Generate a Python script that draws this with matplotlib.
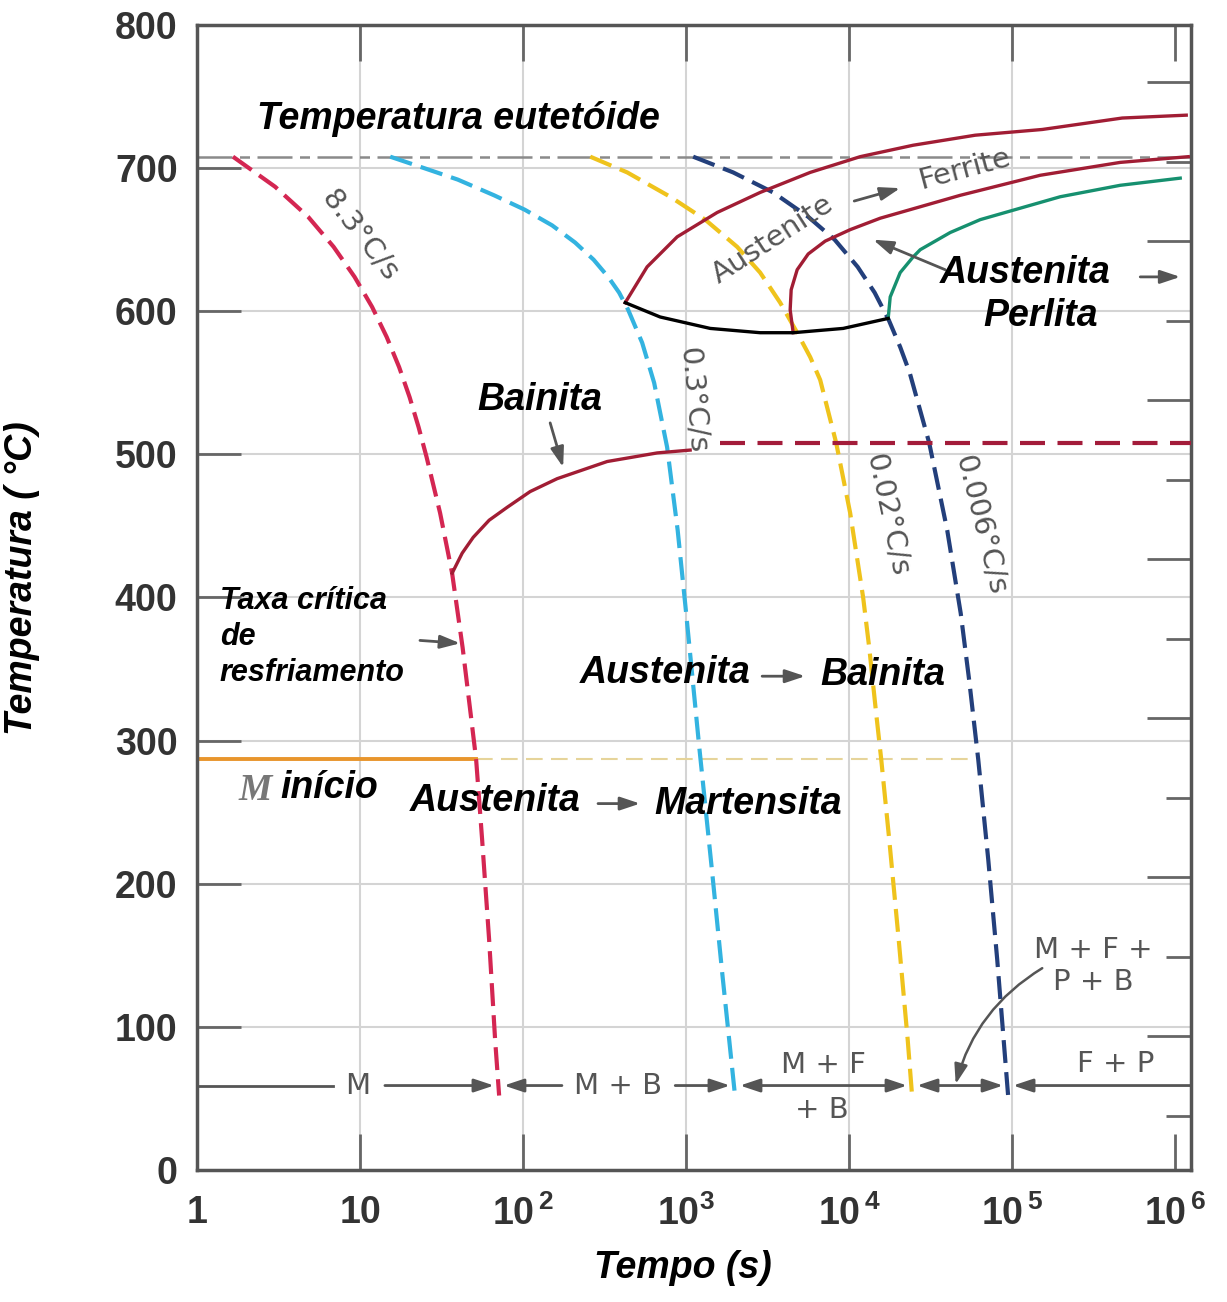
import matplotlib.pyplot as plt
from matplotlib.ticker import NullLocator, FixedLocator

plt.rcParams['font.family'] = ['Liberation Sans', 'DejaVu Sans']
plt.rcParams['mathtext.fontset'] = 'custom'
plt.rcParams['mathtext.rm'] = 'Liberation Sans:bold'
plt.rcParams['mathtext.bf'] = 'Liberation Sans:bold'

### Data (time in s, temperature in °C)

# cooling curves
red_t = [1.66, 3.01, 4.80, 6.88, 9.25, 11.85, 14.56, 17.35, 20.12, 22.85, 25.59, 30.96,
         36.68, 42.55, 47.63, 51.48, 56.03, 61.86, 67.33, 71.26]
red_T = [708, 687, 666, 645, 624, 603, 582, 561, 540, 519, 498, 459,
         417, 365, 319, 287, 231, 161, 91, 52]

cyan_t = [15.3, 24.7, 39.7, 66.4, 102.1, 150.6, 208.4, 270.7, 332.3, 388.1, 440.8, 537.2,
          636.3, 764.3, 887.1, 1000, 1202, 1444, 1663, 1998]
cyan_T = [708, 700, 692, 681, 671, 660, 648, 636, 624, 613, 601, 578,
          550, 505, 447, 389, 296, 208, 138, 51]

yellow_t = [258, 435, 798, 1308, 2055, 2844, 3773, 4797, 5765, 6640, 8322, 10140,
            12180, 13270, 14640, 15720, 17600, 20120, 22850, 24350]
yellow_T = [708, 697, 680, 664, 645, 627, 606, 585, 568, 552, 508, 459,
            400, 365, 319, 287, 231, 161, 91, 51]

navy_t = [1104, 1942, 3418, 5604, 8147, 11270, 14330, 17470, 20550, 23510, 30960, 39930,
          48310, 54480, 61860, 71270, 80910, 94520]
navy_T = [708, 697, 683, 666, 650, 631, 613, 594, 575, 557, 508, 447,
          389, 342, 287, 217, 147, 51]

# transformation curves
ferrite_t = [423, 576, 881, 1550, 2844, 5765, 11680, 24700, 59290, 152800, 472900, 1168000]
ferrite_T = [606, 631, 652, 669, 683, 697, 708, 716, 723, 727, 735, 737]

nose_t = [423, 692, 1404, 2844, 4533, 9189, 17350]
nose_T = [606, 596, 588, 585, 585, 588, 595]

pearl_t = [4533, 4345, 4407, 4797, 5604, 7126, 10140, 15500, 27270, 47970, 148500, 459800, 1202000]
pearl_T = [585, 601, 615, 629, 640, 649, 657, 665, 673, 681, 695, 704, 708]

green_t = [17350, 17850, 20550, 24700, 27270, 41650, 63630, 197000, 459800, 1073000]
green_T = [595, 610, 627, 638, 643, 655, 664, 680, 688, 693]

bain_t = [36.7, 42.3, 49.4, 61.9, 79.8, 110.4, 161.6, 327.6, 663.9, 1058]
bain_T = [417, 431, 442, 454, 463, 474, 483, 495, 501, 503]
bain_dash_t = [1620, 1250000]
bain_dash_T = [508, 508]

t_min, t_max = 1, 1250000
T_eutectoid = 708
T_ms = 287
t_ms_end = 55200
T_bottom = 59

rate_labels = ['8.3°C/s', '0.3°C/s', '0.02°C/s', '0.006°C/s']
temp_ticks = [0, 100, 200, 300, 400, 500, 600, 700, 800]
time_ticks = [1, 10, 1e2, 1e3, 1e4, 1e5, 1e6]
time_labels = ['1', '10', r'10$^{\,2}$', r'10$^{3}$', r'10$^{\,4}$', r'10$^{\,5}$', r'10$^{\,6}$']
fahr_major = [200, 400, 600, 800, 1000, 1200, 1400]
fahr_minor = [100, 300, 500, 700, 900, 1100, 1300]

### Figure

fig = plt.figure(figsize=(12.27, 13.02), dpi=100)
ax = fig.add_axes([0.1606, 0.1014, 0.8101, 0.8794])
ax.set_xscale('log')
ax.set_xlim(t_min, t_max)
ax.set_ylim(0, 800)

grid_c = '#d4d4d4'
for v in time_ticks[1:-1]:
    ax.axvline(v, color=grid_c, lw=1.5, zorder=0)
for v in temp_ticks[1:-1]:
    ax.axhline(v, color=grid_c, lw=1.5, zorder=0)

# eutectoid line and Ms line
ax.plot([t_min, t_max], [T_eutectoid] * 2, color='#8a8a8a', lw=1.8,
        linestyle=(0, (14, 3, 4, 3)), zorder=1)
ax.plot([t_min, red_t[15]], [T_ms] * 2, color='#e8952c', lw=2.8, zorder=2)
ax.plot([red_t[15], t_ms_end], [T_ms] * 2, color='#e6d49a', lw=1.5,
        linestyle=(0, (8, 4)), zorder=1)

# cooling curves
dash = (0, (5.5, 2.2))
ax.plot(red_t, red_T, color='#d42652', lw=3, linestyle=dash, zorder=3)
ax.plot(cyan_t, cyan_T, color='#33b3e0', lw=3, linestyle=dash, zorder=3)
ax.plot(yellow_t, yellow_T, color='#efc31c', lw=3, linestyle=dash, zorder=3)
ax.plot(navy_t, navy_T, color='#233f7b', lw=3, linestyle=dash, zorder=3)

# transformation curves
ax.plot(ferrite_t, ferrite_T, color='#a11d34', lw=2.4, zorder=4)
ax.plot(pearl_t, pearl_T, color='#a11d34', lw=2.4, zorder=4)
ax.plot(green_t, green_T, color='#16906f', lw=2.4, zorder=4)
ax.plot(nose_t, nose_T, color='black', lw=2.4, zorder=4)
ax.plot(bain_t, bain_T, color='#a11d34', lw=2.4, zorder=4)
ax.plot(bain_dash_t, bain_dash_T, color='#a31c3a', lw=3, linestyle=(0, (6, 3)), zorder=3)

# bottom product line with arrows
gray = '#555555'
def arrow(x0, y0, x1, y1, style='-|>'):
    ax.annotate('', xy=(x1, y1), xytext=(x0, y0),
                arrowprops=dict(arrowstyle=style + ',head_length=0.6,head_width=0.2',
                                color=gray, lw=2, shrinkA=0, shrinkB=0,
                                mutation_scale=20), zorder=5)

ax.plot([t_min, 6.83], [T_bottom] * 2, color=gray, lw=2, zorder=5)
arrow(14.2, T_bottom, red_t[-1] * 0.93, T_bottom)
arrow(173, T_bottom, red_t[-1] * 1.07, T_bottom)
arrow(857, T_bottom, cyan_t[-1] * 0.93, T_bottom)
arrow(cyan_t[-1] * 1.07, T_bottom, yellow_t[-1] * 0.93, T_bottom, '<|-|>')
arrow(yellow_t[-1] * 1.07, T_bottom, navy_t[-1] * 0.93, T_bottom, '<|-|>')
arrow(t_max, T_bottom, navy_t[-1] * 1.07, T_bottom)

lab = dict(color=gray, fontsize=21, family='DejaVu Sans', ha='center', va='center', zorder=6)
ax.text(9.72, T_bottom, 'M', **lab)
ax.text(383, T_bottom, 'M + B', **lab)
ax.text(6925, 73, 'M + F', **lab)
ax.text(6830, 42, '+ B', **lab)
ax.text(314000, 154, 'M + F +', **lab)
ax.text(314000, 131, 'P + B', **lab)
ax.text(428500, 74, 'F + P', **lab)
ax.annotate('', xy=(45000, T_bottom + 1), xytext=(152800, 141),
            arrowprops=dict(arrowstyle='-|>,head_length=0.6,head_width=0.2', color=gray,
                            lw=1.8, shrinkA=0, shrinkB=0, mutation_scale=20,
                            connectionstyle='arc3,rad=0.2'), zorder=5)

# rotated rate labels
rot = dict(color=gray, fontsize=21, family='DejaVu Sans', ha='center', va='center',
           rotation_mode='anchor', zorder=6)
ax.text(10, 653, rate_labels[0], rotation=-52, **rot)
ax.text(1104, 538, rate_labels[1], rotation=-85, **rot)
ax.text(17110, 458, rate_labels[2], rotation=-78, **rot)
ax.text(63660, 451, rate_labels[3], rotation=-76, **rot)
ax.text(3373, 650, 'Austenite', rotation=33, **rot)
ax.text(50800, 699, 'Ferrite', rotation=15, **rot)
arrow(10740, 677, 20550, 686)

# bold italic annotations
big = dict(color='black', fontsize=27, fontweight='bold', style='italic',
           ha='center', va='center', zorder=6)
ax.text(39.9, 734, 'Temperatura eutetóide', **big)
ax.text(127, 538, 'Bainita', **big)
arrow(146.5, 522, 176, 491)
ax.text(743, 347, 'Austenita', **big)
arrow(2925, 345, 5370, 345)
ax.text(16170, 346, 'Bainita', **big)
ax.text(67.3, 258, 'Austenita', **big)
arrow(288, 256, 522, 256)
ax.text(2400, 256, 'Martensita', **big)
ax.text(3.23, 267, 'início', color='black', fontsize=27, fontweight='bold', style='italic',
        ha='left', va='center', zorder=6)
ax.text(2.88, 265, 'M', color='#777777', fontsize=27, fontweight='bold', style='italic',
        family='Liberation Serif', ha='right', va='center', zorder=6)
ax.text(120200, 627, 'Austenita', **big)
ax.text(148500, 597, 'Perlita', **big)
arrow(610000, 624, 1074000, 624)
arrow(38820, 629, 14030, 650)
ax.text(1.38, 408, 'Taxa crítica\nde\nresfriamento', color='black', fontsize=22,
        fontweight='bold', style='italic', ha='left', va='top', linespacing=1.25, zorder=6)
arrow(23.3, 370, 41.1, 368)

### Axes styling

for s in ax.spines.values():
    s.set_color('#555555')
    s.set_linewidth(2.5)

ax.set_xticks(time_ticks)
ax.set_xticklabels(time_labels)
ax.xaxis.set_minor_locator(NullLocator())
ax.set_yticks(temp_ticks)
ax.tick_params('x', direction='in', length=26, width=2, color='#666666', top=True,
               labelsize=27, pad=18)
ax.tick_params('y', direction='in', length=32, width=2, color='#666666', right=False,
               labelsize=27, pad=14)
for t in ax.get_xticklabels() + ax.get_yticklabels():
    t.set_fontweight('bold')
    t.set_color('#333333')

sec = ax.secondary_yaxis('right', functions=(lambda c: c * 9 / 5 + 32, lambda f: (f - 32) * 5 / 9))
sec.yaxis.set_major_locator(FixedLocator(fahr_major))
sec.yaxis.set_minor_locator(FixedLocator(fahr_minor))
sec.tick_params(which='major', direction='in', length=32, width=2, color='#666666', labelright=False)
sec.tick_params(which='minor', direction='in', length=18, width=2, color='#666666')
sec.spines['right'].set_visible(False)

ax.set_xlabel('Tempo (s)', fontsize=27, fontweight='bold', style='italic')
ax.set_ylabel('Temperatura ( °C)', fontsize=27, fontweight='bold', style='italic')
ax.xaxis.set_label_coords(0.489, -0.07)
ax.yaxis.set_label_coords(-0.158, 0.517)

fig.savefig('out.png')
plt.close(fig)
